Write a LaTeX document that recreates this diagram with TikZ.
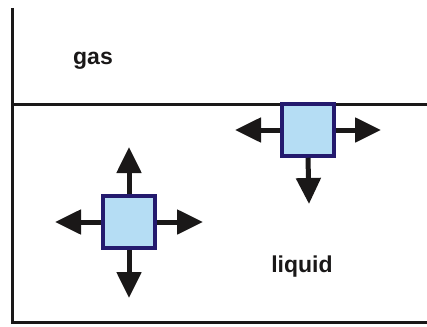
\documentclass[tikz,border=0pt]{standalone}
\usepackage{fontspec}
\setmainfont{Liberation Sans}
\usetikzlibrary{arrows.meta}
\definecolor{boxfill}{HTML}{B5DDF4}
\definecolor{boxline}{HTML}{241A6E}
\definecolor{ink}{HTML}{1A1818}
\tikzset{
  frame/.style={line width=3pt, draw=ink},
  particle/.style={draw=boxline, fill=boxfill, line width=3.5pt, minimum size=52pt, inner sep=0pt},
  push/.style={line width=5pt, draw=ink, -{Triangle[length=26pt,width=24pt]}},
  lbl/.style={font=\fontsize{23}{26}\selectfont\bfseries, text=ink}
}
\begin{document}
\begin{tikzpicture}[x=1pt,y=-1pt]
\useasboundingbox (0,0) rectangle (427,326);
\coordinate (ftop) at (12,8);
\coordinate (fbl) at (12,322);
\coordinate (fbr) at (427,322);
\coordinate (sl) at (12,104);
\coordinate (sr) at (427,104);
\draw[frame] (ftop) -- (fbl) -- (fbr);
\draw[frame] (sl) -- (sr);
\node[lbl] (gas) at (93,61) {gas};
\node[lbl] (liquid) at (302,267) {liquid};
\node[particle] (p1) at (308,130) {};
\node[particle] (p2) at (129,222) {};
\coordinate (p1w) at (235,130);
\coordinate (p1e) at (381,130);
\coordinate (p1s) at (309,204);
\coordinate (p2n) at (129,147);
\coordinate (p2w) at (55,222);
\coordinate (p2e) at (203,222);
\coordinate (p2s) at (129,298);
\draw[push] (p1.west) -- (p1w);
\draw[push] (p1.east) -- (p1e);
\draw[push] (p1.south) -- (p1s);
\draw[push] (p2.north) -- (p2n);
\draw[push] (p2.west) -- (p2w);
\draw[push] (p2.east) -- (p2e);
\draw[push] (p2.south) -- (p2s);
\end{tikzpicture}
\end{document}
